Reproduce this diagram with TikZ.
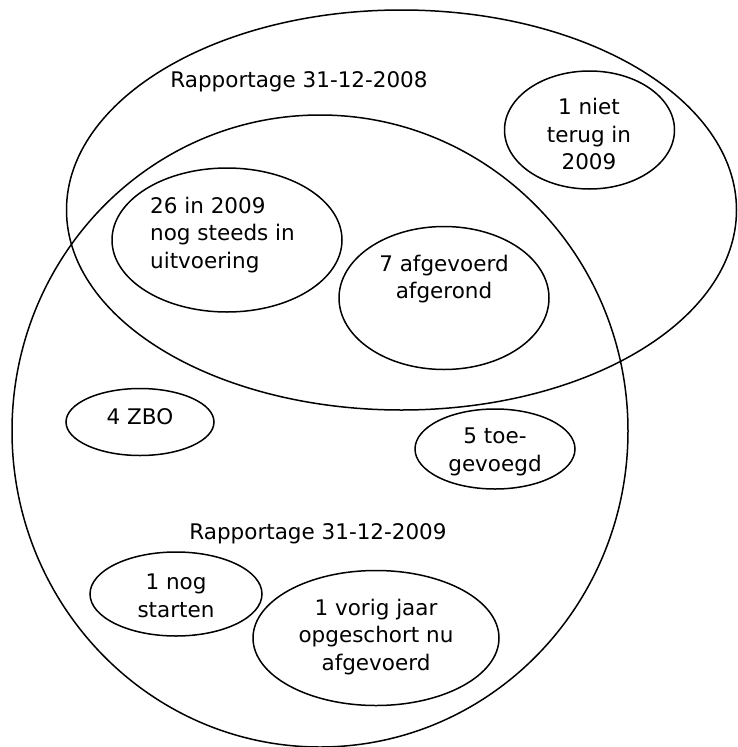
\documentclass[tikz,border=0pt]{standalone}
\usepackage{fontspec}
\setmainfont{DejaVu Sans}
\usetikzlibrary{shapes.geometric}
\begin{document}
\begin{tikzpicture}[x=1pt,y=-1pt,
  ring/.style={draw=black,line width=1.5pt,ellipse,inner sep=0pt},
  lbl/.style={font=\fontsize{21.5}{27.5}\selectfont,align=center,inner sep=0pt}]
\useasboundingbox (0,0) rectangle (737,747);
% large sets
\node[ring,minimum width=670pt,minimum height=400pt] (y2008) at (401.5,210) {};
\node[ring,minimum width=616pt,minimum height=632pt] (y2009) at (320,431) {};
% small sets
\node[ring,minimum width=170pt,minimum height=118pt] (niet) at (589.5,130) {};
\node[ring,minimum width=230pt,minimum height=144pt] (uitv) at (227,240) {};
\node[ring,minimum width=210pt,minimum height=143pt] (afgv) at (444,298) {};
\node[ring,minimum width=148pt,minimum height=67pt] (zbo) at (140,422) {};
\node[ring,minimum width=160pt,minimum height=80pt] (toeg) at (495,449) {};
\node[ring,minimum width=172pt,minimum height=84pt] (start) at (176,594) {};
\node[ring,minimum width=246pt,minimum height=135pt] (vorig) at (376,638) {};
% labels
\node[lbl] (t2008) at (299,82) {Rapportage 31-12-2008};
\node[lbl] (t2009) at (318,534) {Rapportage 31-12-2009};
\node[lbl] (tniet) at (589,134) {1 niet\\terug in\\2009};
\node[lbl,align=left,anchor=west] (tuitv) at (150,235) {26 in 2009\\nog steeds in\\uitvoering};
\node[lbl] (tafgv) at (444,279) {7 afgevoerd\\afgerond};
\node[lbl] (tzbo) at (140,417) {4 ZBO};
\node[lbl] (ttoeg) at (495,452) {5 toe-\\gevoegd};
\node[lbl] (tstart) at (176,596) {1 nog\\starten};
\node[lbl] (tvorig) at (376,637) {1 vorig jaar\\opgeschort nu\\afgevoerd};
\end{tikzpicture}
\end{document}
